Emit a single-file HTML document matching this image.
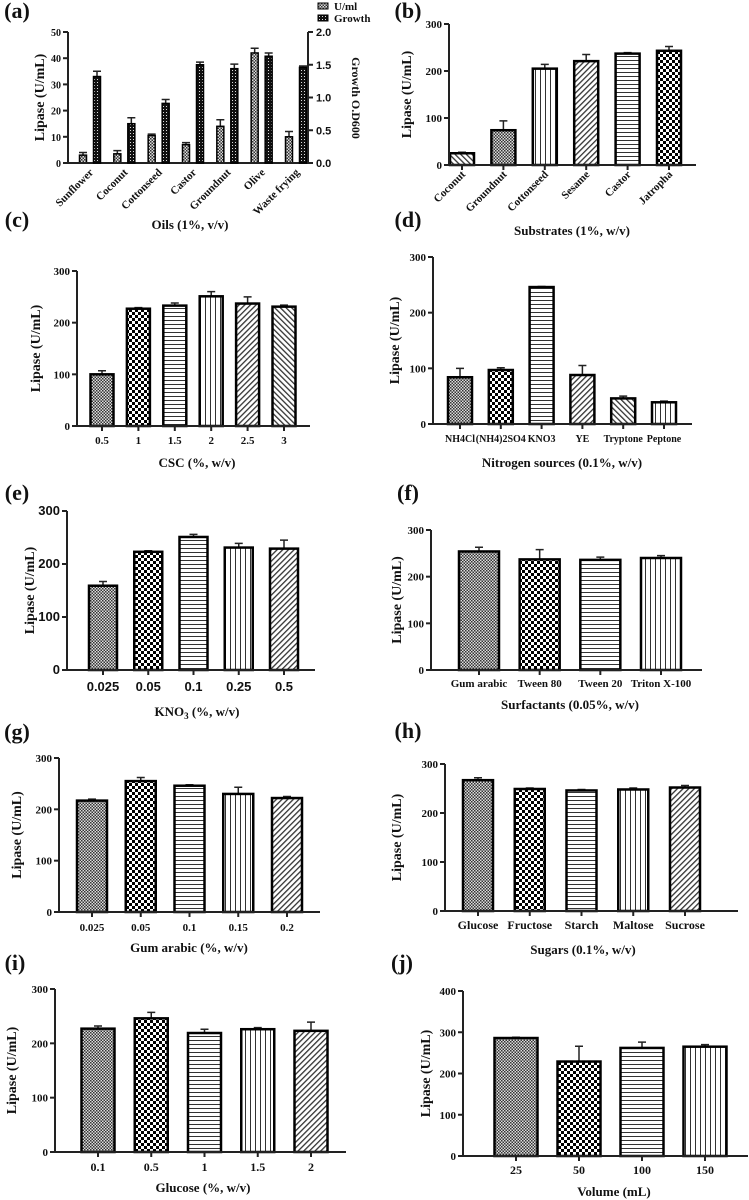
<!DOCTYPE html>
<html><head><meta charset="utf-8"><style>
html,body{margin:0;padding:0;background:#fff;}
svg{display:block;}
text{font-family:"Liberation Serif",serif;font-weight:bold;fill:#111;}
.sans{font-family:"Liberation Sans",sans-serif;}
</style></head><body>
<svg id="fig" width="749" height="1200" viewBox="0 0 749 1200" xmlns="http://www.w3.org/2000/svg">
<defs>
<pattern id="p-fine" width="3" height="3" patternUnits="userSpaceOnUse"><rect width="3" height="3" fill="#ddd"/><rect width="1.5" height="1.5" fill="#333"/><rect x="1.5" y="1.5" width="1.5" height="1.5" fill="#333"/></pattern>
<pattern id="p-check" width="6" height="6" patternUnits="userSpaceOnUse"><rect width="6" height="6" fill="#fff"/><rect width="3" height="3" fill="#000"/><rect x="3" y="3" width="3" height="3" fill="#000"/></pattern>
<pattern id="p-horiz" width="4" height="4" patternUnits="userSpaceOnUse"><rect width="4" height="4" fill="#fff"/><rect y="0" width="4" height="1" fill="#333"/></pattern>
<pattern id="p-vert" width="5" height="5" patternUnits="userSpaceOnUse"><rect width="5" height="5" fill="#fff"/><rect x="0" width="1" height="5" fill="#333"/></pattern>
<pattern id="p-diag1" width="4" height="4" patternUnits="userSpaceOnUse" patternTransform="rotate(45)"><rect width="4" height="4" fill="#fff"/><rect width="1.3" height="4" fill="#333"/></pattern>
<pattern id="p-diag2" width="4" height="4" patternUnits="userSpaceOnUse" patternTransform="rotate(-45)"><rect width="4" height="4" fill="#fff"/><rect width="1.3" height="4" fill="#333"/></pattern>
<pattern id="p-dots" width="3" height="3" patternUnits="userSpaceOnUse"><rect width="3" height="3" fill="#111"/><rect x="1" y="1" width="1" height="1" fill="#ddd"/></pattern>
</defs>
</svg>
<script>
// ---- data ----
const aCats = ["Sunflower","Coconut","Cottonseed","Castor","Groundnut","Olive","Waste frying"];
const aLipase = [3,3.5,10.5,7,14,42,10];
const aLipaseErr = [1,1.2,0.5,0.8,2.5,1.8,2];
const aGrowth = [1.32,0.6,0.91,1.5,1.44,1.63,1.46];
const aGrowthErr = [0.08,0.09,0.06,0.04,0.07,0.05,0.02];
const aTicks = [0,10,20,30,40,50];
const aRightTicks = ["0.0","0.5","1.0","1.5","2.0"];

const bCats = ["Coconut","Groundnut","Cottonseed","Sesame","Castor","Jatropha"];
const bVals = [25,74,205,221,237,243];
const bErr = [2,20,9,14,2,9];
const cCats = ["0.5","1","1.5","2","2.5","3"];
const cVals = [100,227,233,251,237,231];
const cErr = [7,2,5,9,13,3];
const dCats = ["NH4Cl","(NH4)2SO4","KNO3","YE","Tryptone","Peptone"];
const dVals = [84,97,246,88,46,39];
const dErr = [16,4,1,17,4,2];
const eCats = ["0.025","0.05","0.1","0.25","0.5"];
const eVals = [159,223,251,231,229];
const eErr = [8,2,5,8,16];
const fCats = ["Gum arabic","Tween 80","Tween 20","Triton X-100"];
const fVals = [254,237,236,240];
const fErr = [9,21,6,5];
const gCats = ["0.025","0.05","0.1","0.15","0.2"];
const gVals = [217,255,246,230,222];
const gErr = [3,7,2,13,3];
const hCats = ["Glucose","Fructose","Starch","Maltose","Sucrose"];
const hVals = [267,249,246,248,252];
const hErr = [5,2,2,3,4];
const iCats = ["0.1","0.5","1","1.5","2"];
const iVals = [227,246,219,226,223];
const iErr = [5,11,7,3,16];
const jCats = ["25","50","100","150"];
const jVals = [286,229,262,265];
const jErr = [2,37,14,5];
const ticks300 = [0,100,200,300];
const ticks400 = [0,100,200,300,400];

const NS = "http://www.w3.org/2000/svg";
const svg = document.getElementById('fig');
function mk(tag, attrs, parent){const e=document.createElementNS(NS,tag);for(const k in attrs)e.setAttribute(k,attrs[k]);(parent||svg).appendChild(e);return e;}
function txt(s, attrs, parent){const e=mk('text',attrs,parent);e.textContent=s;return e;}

function drawPanel(p){
  const g = mk('g',{});
  
  
  const ymax = p.ticks[p.ticks.length-1];
  const y = v => p.bot - (v/ymax)*(p.bot-p.top);
  const n = p.cats.length;
  const step = n>1 ? (p.cLast-p.cFirst)/(n-1) : 0;
  const x = i => p.cFirst + i*step;
  // label
  const lab = txt(p.letter,{x:p.lx,y:p.ly,'font-size':22,'text-anchor':'middle','dominant-baseline':'middle'},g);
  
  
  // bars
  p.vals.forEach((v,i)=>{
    const cx = x(i) + (p.offset||0);
    const eb = mk('path',{d:`M${cx} ${y(v)} V${y(v+p.err[i])} M${cx-4} ${y(v+p.err[i])} H${cx+4}`,stroke:'#222','stroke-width':1.5,fill:'none'},g);
    
    
    const r = mk('rect',{x:cx-p.bw/2,y:y(v),width:p.bw,height:p.bot-y(v),fill:'url(#'+p.pats[i%p.pats.length]+')',stroke:'#000','stroke-width':p.sw||2.5},g);
    
    
  });
  // axes
  const ax = mk('path',{d:`M${p.ax} ${p.top} V${p.bot} H${p.right}`,stroke:'#222','stroke-width':2,fill:'none'},g);
  
  
  p.ticks.forEach(t=>{
    mk('line',{x1:p.ax-5,x2:p.ax,y1:y(t),y2:y(t),stroke:'#222','stroke-width':2},g);
    const tl = txt(String(t),{x:p.ax-7,y:y(t)+4,'font-size':p.tfs||11,'text-anchor':'end',class:p.sansTicks?'sans':''},g);
    
    
  });
  p.cats.forEach((c,i)=>{
    if(!p.groups) mk('line',{x1:x(i),x2:x(i),y1:p.bot,y2:p.bot+5,stroke:'#222','stroke-width':2},g);
    let t;
    if(p.rot){
      t = txt(c,{x:x(i)+(p.rotDx||0),y:p.bot+10,'font-size':11,'text-anchor':'end',transform:`rotate(-45 ${x(i)+(p.rotDx||0)} ${p.bot+10})`},g);
    } else {
      t = txt(c,{x:x(i),y:p.xly,'font-size':p.xfs||11,'text-anchor':'middle',class:p.sansTicks?'sans':''},g);
    }
    
    
  });
  const yt = txt(p.ytitle,{x:p.ytx,y:(p.top+p.bot)/2,'font-size':14,'text-anchor':'middle',transform:`rotate(-90 ${p.ytx} ${(p.top+p.bot)/2})`},g);
  
  
  const xt = txt('',{x:p.xtx,y:p.xty,'font-size':13,'text-anchor':'middle'},g);
  xt.innerHTML = p.xtitle;
  
  
  return {g,y,x};
}

const six = ['p-fine','p-check','p-horiz','p-vert','p-diag1','p-diag2'];

// panel a (grouped, dual axis)
const pa = drawPanel({name:'panel-a-oils',letter:'(a)',lx:17,ly:13,cats:aCats,vals:aLipase,err:aLipaseErr,ticks:aTicks,
  ax:68,top:32,bot:163,right:308,cFirst:90,cLast:296,bw:7,sw:1.5,offset:-7,pats:['p-fine'],groups:true,rot:true,rotDx:4,
  ytitle:'Lipase (U/mL)',ytx:44,xtitle:'Oils (1%, v/v)',xtx:190,xty:229,tfs:10});
{
  const g = pa.g;
  const ymaxR = 2.0;
  const yR = v => 163 - (v/ymaxR)*(163-32);
  aGrowth.forEach((v,i)=>{
    const cx = pa.x(i)+7;
    const eb = mk('path',{d:`M${cx} ${yR(v)} V${yR(v+aGrowthErr[i])} M${cx-4} ${yR(v+aGrowthErr[i])} H${cx+4}`,stroke:'#222','stroke-width':1.5,fill:'none'},g);
    
    
    const r = mk('rect',{x:cx-3.5,y:yR(v),width:7,height:163-yR(v),fill:'url(#p-dots)',stroke:'#000','stroke-width':1.5},g);
    
    
  });
  mk('line',{x1:308,x2:308,y1:32,y2:163,stroke:'#222','stroke-width':2},g);
  aRightTicks.forEach(t=>{
    mk('line',{x1:308,x2:313,y1:yR(+t),y2:yR(+t),stroke:'#222','stroke-width':2},g);
    const tl = txt(t,{x:316,y:yR(+t)+4,'font-size':11,class:'sans'},g);
    
    
  });
  const rt = txt('Growth O.D600',{x:352,y:98,'font-size':12,'text-anchor':'middle',transform:'rotate(90 352 98)'},g);
  
  
  const l1 = mk('rect',{x:318,y:3,width:10,height:6,fill:'url(#p-fine)',stroke:'#000','stroke-width':1},g);
  
  
  const l2 = mk('rect',{x:318,y:15,width:10,height:6,fill:'url(#p-dots)',stroke:'#000','stroke-width':1},g);
  
  
  const t1 = txt('U/ml',{x:334,y:10,'font-size':11,'font-weight':'normal'},g);
  
  
  const t2 = txt('Growth',{x:334,y:22,'font-size':11,'font-weight':'normal'},g);
  
  
}

drawPanel({name:'panel-b-substrates',letter:'(b)',lx:408,ly:13,cats:bCats,vals:bVals,err:bErr,ticks:ticks300,
  ax:449,top:24,bot:165,right:696,cFirst:462,cLast:669,bw:24,pats:['p-diag2','p-fine','p-vert','p-diag1','p-horiz','p-check'],rot:true,rotDx:4,
  ytitle:'Lipase (U/mL)',ytx:411,xtitle:'Substrates (1%, w/v)',xtx:572,xty:235});
drawPanel({name:'panel-c-csc',letter:'(c)',lx:17,ly:222,cats:cCats,vals:cVals,err:cErr,ticks:ticks300,
  ax:77,top:271,bot:426,right:310,cFirst:102,cLast:284,bw:23,pats:six,xly:444,
  ytitle:'Lipase (U/mL)',ytx:40,xtitle:'CSC (%, w/v)',xtx:197,xty:467});
drawPanel({name:'panel-d-nitrogen',letter:'(d)',lx:408,ly:222,cats:dCats,vals:dVals,err:dErr,ticks:ticks300,
  ax:433,top:257,bot:424,right:692,cFirst:460,cLast:664,bw:24,pats:['p-fine','p-check','p-horiz','p-diag1','p-diag2','p-vert'],xly:442,xfs:10,
  ytitle:'Lipase (U/mL)',ytx:399,xtitle:'Nitrogen sources (0.1%, w/v)',xtx:562,xty:467});
drawPanel({name:'panel-e-kno3',letter:'(e)',lx:17,ly:495,cats:eCats,vals:eVals,err:eErr,ticks:ticks300,
  ax:67,top:511,bot:670,right:315,cFirst:103,cLast:284,bw:28,pats:six,xly:691,xfs:13,tfs:13,sansTicks:true,
  ytitle:'Lipase (U/mL)',ytx:34,xtitle:'KNO<tspan font-size="9" dy="3">3</tspan><tspan dy="-3"> (%, w/v)</tspan>',xtx:197,xty:716});
drawPanel({name:'panel-f-surfactants',letter:'(f)',lx:408,ly:495,cats:fCats,vals:fVals,err:fErr,ticks:ticks300,
  ax:431,top:530,bot:670,right:702,cFirst:479,cLast:661,bw:40,pats:six,xly:687,
  ytitle:'Lipase (U/mL)',ytx:401,xtitle:'Surfactants (0.05%, w/v)',xtx:570,xty:709});
drawPanel({name:'panel-g-gum-arabic',letter:'(g)',lx:17,ly:734,cats:gCats,vals:gVals,err:gErr,ticks:ticks300,
  ax:59,top:758,bot:912,right:320,cFirst:92,cLast:287,bw:30,pats:six,xly:931,
  ytitle:'Lipase (U/mL)',ytx:21,xtitle:'Gum arabic (%, w/v)',xtx:189,xty:952});
drawPanel({name:'panel-h-sugars',letter:'(h)',lx:408,ly:733,cats:hCats,vals:hVals,err:hErr,ticks:ticks300,
  ax:445,top:764,bot:911,right:738,cFirst:478,cLast:685,bw:30,pats:six,xly:929,xfs:12,
  ytitle:'Lipase (U/mL)',ytx:401,xtitle:'Sugars (0.1%, w/v)',xtx:583,xty:954});
drawPanel({name:'panel-i-glucose',letter:'(i)',lx:15,ly:965,cats:iCats,vals:iVals,err:iErr,ticks:ticks300,
  ax:55,top:989,bot:1152,right:346,cFirst:98,cLast:311,bw:33,pats:six,xly:1171,xfs:12,
  ytitle:'Lipase (U/mL)',ytx:16,xtitle:'Glucose (%, w/v)',xtx:203,xty:1192});
drawPanel({name:'panel-j-volume',letter:'(j)',lx:402,ly:965,cats:jCats,vals:jVals,err:jErr,ticks:ticks400,
  ax:463,top:991,bot:1156,right:748,cFirst:516,cLast:705,bw:43,pats:six,xly:1174,xfs:12,
  ytitle:'Lipase (U/mL)',ytx:430,xtitle:'Volume (mL)',xtx:614,xty:1196});
</script>
</body></html>
